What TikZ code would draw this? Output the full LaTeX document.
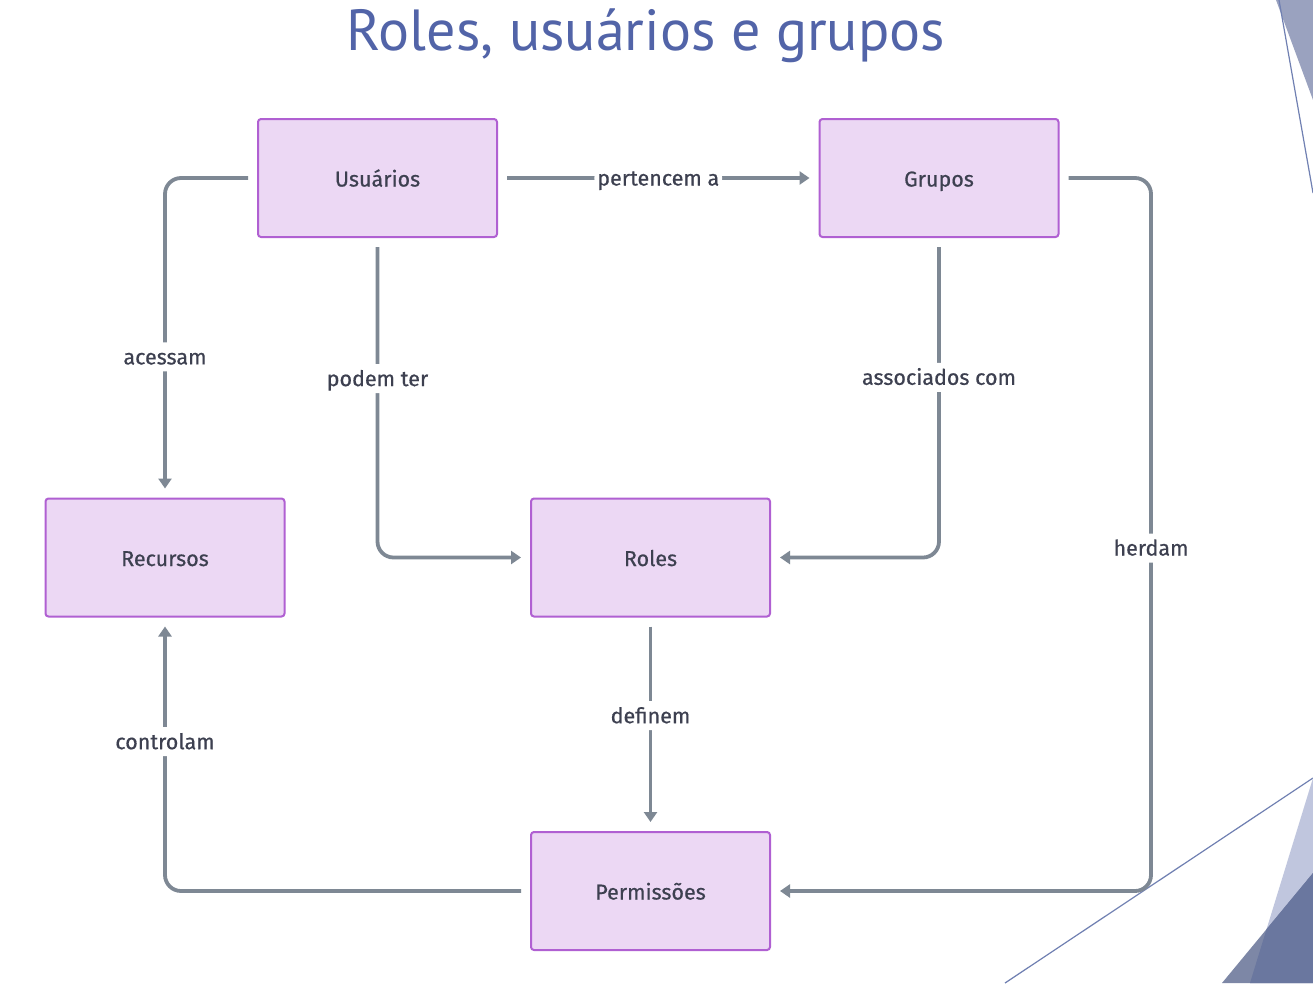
\documentclass[tikz,border=0pt]{standalone}
\usepackage{fontspec}
\setmainfont{Fira Sans}[FakeBold=0.6]
\newfontfamily\titlefont{PT Sans}
\usetikzlibrary{arrows.meta}
\definecolor{boxfill}{HTML}{ECD8F4}
\definecolor{boxline}{HTML}{B060D2}
\definecolor{edgec}{HTML}{7E8894}
\definecolor{txtc}{HTML}{3D4050}
\definecolor{titlec}{HTML}{5264A8}
\definecolor{decoA}{HTML}{9AA2BF}
\definecolor{decoL}{HTML}{7080B2}
\definecolor{decoB}{HTML}{C0C6DE}
\definecolor{decoC}{HTML}{7D87A6}
\definecolor{decoD}{HTML}{6A779F}
\begin{document}
\begin{tikzpicture}[x=1pt,y=-1pt,
  box/.style={draw=boxline, line width=2pt, fill=boxfill, rounded corners=3pt,
    minimum width=239pt, minimum height=118pt, inner sep=0pt,
    text height=19pt, text depth=2pt,
    text=txtc, font=\fontsize{21.5}{24}\selectfont},
  edge/.style={draw=edgec, line width=3.8pt, rounded corners=16pt,
    shorten <=9pt, shorten >=9pt, -{Triangle[width=13pt,length=10pt]}},
  lbl/.style={fill=white, text=txtc, inner xsep=3pt, inner ysep=4pt,
    text height=18pt, text depth=3pt, font=\fontsize{21.5}{24}\selectfont}]
\useasboundingbox (0,0) rectangle (1313,983);
\fill[white] (0,0) rectangle (1313,983);
% decorations
\fill[decoA] (1276,0) -- (1313,0) -- (1313,100) -- cycle;
\draw[decoL, line width=1.2pt] (1279,0) -- (1313,193);
\draw[decoL, line width=1.2pt] (1005,983) -- (1313,778);
\fill[decoB] (1313,778) -- (1250,983) -- (1313,983) -- cycle;
\fill[decoC] (1313,873) -- (1222,983) -- (1313,983) -- cycle;
\begin{scope}
\clip (1313,778) -- (1250,983) -- (1313,983) -- cycle;
\fill[decoD] (1313,873) -- (1222,983) -- (1313,983) -- cycle;
\end{scope}
% title
\node[text=titlec, font=\titlefont\fontsize{58}{62}\selectfont, anchor=base] (title) at (646,50) {Roles, usuários e grupos};
% nodes
\node[box] (u) at (377.5,178) {Usuários};
\node[box] (g) at (939,178) {Grupos};
\node[box] (re) at (165,557.5) {Recursos};
\node[box] (ro) at (650.5,557.5) {Roles};
\node[box] (p) at (650.5,891) {Permissões};
\coordinate (hx) at (1151,548);
% edges
\draw[edge] (u.west) -| node[lbl, pos=0.78] {acessam} (re.north);
\draw[edge] (u.east) -- node[lbl, pos=0.5] {pertencem a} (g.west);
\draw[edge] (u.south) |- node[lbl, pos=0.22] {podem ter} (ro.west);
\draw[edge] (g.south) |- node[lbl, pos=0.218] {associados com} (ro.east);
\draw[edge] (g.east) -| (hx) node[lbl] {herdam} |- (p.east);
\draw[edge] (ro.south) -- node[lbl, pos=0.46] {definem} (p.north);
\draw[edge] (p.west) -| node[lbl, pos=0.773] {controlam} (re.south);
\end{tikzpicture}
\end{document}
